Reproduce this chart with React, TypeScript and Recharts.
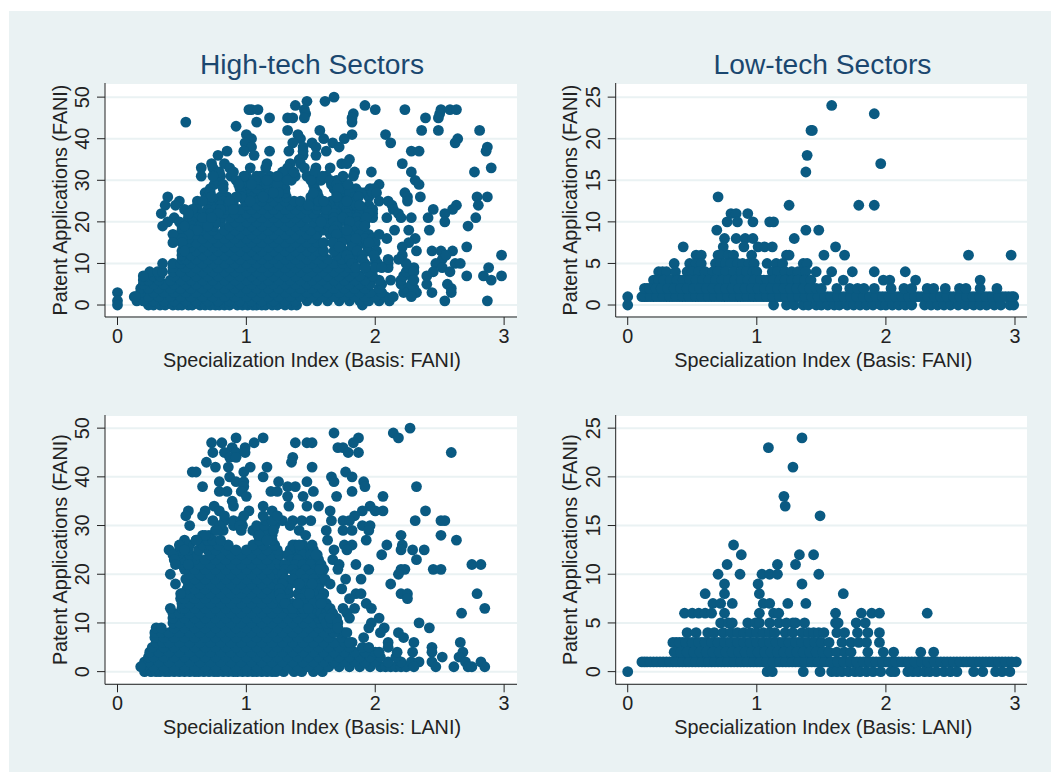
import React from "react";
import { ScatterChart, Scatter, XAxis, YAxis, CartesianGrid } from "recharts";

type Row = [number, number[]];

const xTicks = [0, 1, 2, 3];
const ticksHigh = [0, 10, 20, 30, 40, 50];
const ticksLow = [0, 5, 10, 15, 20, 25];

const titles = ["High-tech Sectors", "Low-tech Sectors"];
const yLabel = "Patent Applications (FANI)";
const xLabelFani = "Specialization Index (Basis: FANI)";
const xLabelLani = "Specialization Index (Basis: LANI)";

const highFaniOuter: Row[] = [
  [50, [1.68]], [49, [1.47, 1.61]], [48, [1.38, 1.92]],
  [47, [1.02, 1.04, 1.09, 1.45, 2.0, 2.23, 2.51, 2.58, 2.63]],
  [46, [1.46, 1.83, 2.5]], [45, [1.18, 1.32, 1.36, 1.45, 1.82, 2.39, 2.49]],
  [44, [.53, 1.08, 1.82]], [43, [.92]], [42, [1.32, 1.57, 2.36, 2.49, 2.81]],
  [41, [1.0, 1.4, 1.82, 2.08]], [40, [1.04, 1.42, 1.6, 1.76, 2.64]],
  [39, [.99, 1.36, 1.51, 1.67, 2.12, 2.62]], [38, [1.04, 1.44, 1.54, 1.72, 2.87]],
  [37, [.85, .98, 1.18, 1.33, 1.44, 1.62, 2.28, 2.34, 2.86]], [36, [.78, 1.06, 1.44, 1.54]],
  [35, [1.8, 1.41]], [34, [.73, .83, 1.16, 1.34, 1.42, 1.74, 1.78, 2.21]],
  [33, [.65, .74, .87, 1.03, 1.15, 1.32, 1.45, 1.54, 1.65, 2.9]],
  [32, [.79, .9, 1.28, 1.37, 1.53, 1.84, 1.97, 2.28, 2.77]],
  [31, [.65, .74, .98, 1.11, 1.24, 1.59, 1.75, 1.83]],
  [30, [.92, 1.07, 1.16, 1.32, 1.5, 1.65, 2.31]],
  [29, [.82, .94, 1.04, 1.7, 1.79, 2.03, 2.34]], [28, [.82, 1.71, 1.96, 1.99]],
  [27, [.72, 1.21, 1.52, 1.89, 1.98, 2.01, 2.23]],
  [26, [.39, .73, .92, 1.13, 1.7, 1.87, 2.25, 2.35, 2.79, 2.87]],
  [25, [.48, .66, .87, 1.03, 1.6, 1.78, 2.03, 2.1, 2.25]],
  [24, [.37, .45, 1.88, 2.13, 2.63, 2.8]], [23, [.52, .58, .9, 2.14, 2.45, 2.6]],
  [22, [.34, .55, 1.95, 2.18, 2.54]], [21, [.44, .66, .73, 1.75, 1.93, 2.09, 2.2, 2.28, 2.41, 2.78]],
  [20, [.39, .48, 1.8, 2.54]], [19, [.35, .52, 1.92, 2.72]], [18, [1.78, 2.15, 2.26, 2.42]],
  [17, [.43, 2.03]], [16, [1.85, 2.09, 2.31]], [15, [.43, 1.67, 1.95, 2.26]], [14, [2.21, 2.71, 1.72]],
  [13, [.52, 2.01, 2.32, 2.44, 2.51, 2.6]], [12, [1.99, 2.21, 2.55, 2.98]], [11, [2.1, 2.18]],
  [10, [.35, 2.47, 2.62, 2.66]], [9, [1.92, 2.05, 2.52, 2.88]], [8, [2.3, 2.45, 2.58]],
  [7, [.2, 2.4, 2.71, 2.84, 2.98]], [6, [2.12, 2.3, 2.9]], [5, [2.4, 2.56]], [4, [2.59]],
  [3, [0, 2.44, 2.59]], [2, [.14, 2.28]], [1, [0, 2.54, 2.87]], [0, [0]],
];

const highFaniFringe: Row[] = [
  [31, [.8, .88, 1.0, 1.08, 1.18, 1.27, 1.5, 1.62]], [30, [.78, .98, 1.12, 1.2, 1.28, 1.58, 1.7]],
  [29, [.75, .96, 1.16, 1.24, 1.66, 1.76]], [28, [.72, .95, 1.74, 1.85]],
  [27, [.68, .96, 1.18, 1.25, 1.8, 1.92]], [26, [.7, .8, .96, 1.5, 1.84, 1.95]],
  [25, [.62, .75, .82, 1.42, 1.56, 1.72, 1.85]], [24, [.62, .72, .8, .86, 1.48, 1.62, 1.76, 1.85, 1.95]],
  [23, [.62, .7, .76, .8, 1.62, 1.78, 1.9, 1.98]], [22, [.6, .66, .72, .78, 1.68, 1.78, 1.88, 1.98]],
  [21, [.55, .62, .7, 1.68, 1.8, 1.86, 1.98]], [20, [.58, .66, .72, .76, 1.58, 1.68, 1.78, 1.86, 1.92]],
  [19, [.5, .58, .64, .7, 1.7, 1.8, 1.87]], [18, [.5, .58, .62, 1.68, 1.82, 1.9]],
  [17, [.5, .55, 1.7, 1.8, 1.88, 1.95]], [16, [.48, .5, 1.78, 1.92, 1.98]],
  [15, [.5, 1.6, 1.74, 1.85, 2.0]], [14, [1.82, 1.94]], [13, [1.68, 1.86, 1.95]],
  [12, [1.78, 1.9]], [11, [1.8, 1.9, 2.0]], [10, [1.82, 1.92, 2.02, 2.1]], [9, [1.85, 2.0, 2.1]],
];

const highFaniCore: Row[] = [
  [0, [.24, .28, .33, .37, .43, .47, .5, .55, .58, .64, .68, .72, .76, .79, .83, .87, .93, .97, 1.01, 1.05, 1.08, 1.12, 1.15, 1.2, 1.24, 1.3, 1.35, 1.39, 1.9]],
  [1, [.15, .2, .28, .36, .44, .53, .61, .7, .78, .87, .95, 1.04, 1.12, 1.21, 1.3, 1.38, 1.47, 1.55, 1.63, 1.72, 1.8, 1.88, 1.95, 2.03, 2.11]],
  [2, [.13, .24, .32, .41, .49, .57, .66, .74, .83, .91, 1.0, 1.08, 1.17, 1.25, 1.34, 1.42, 1.51, 1.59, 1.68, 1.76, 1.84, 1.92, 2.0, 2.08, 2.14]],
  [3, [.18, .28, .36, .44, .53, .61, .7, .78, .87, .95, 1.04, 1.12, 1.21, 1.3, 1.38, 1.47, 1.55, 1.63, 1.72, 1.8, 1.88, 1.96, 2.05, 2.22, 2.32]],
  [4, [.18, .24, .32, .41, .49, .57, .66, .74, .83, .91, 1.0, 1.08, 1.17, 1.25, 1.34, 1.42, 1.51, 1.59, 1.68, 1.76, 1.84, 1.92, 2.03, 2.24, 2.3]],
  [5, [.2, .28, .36, .44, .53, .61, .7, .78, .87, .95, 1.04, 1.12, 1.21, 1.3, 1.38, 1.47, 1.55, 1.63, 1.72, 1.8, 1.88, 1.96, 2.05, 2.2, 2.28]],
  [6, [.2, .24, .32, .41, .49, .57, .66, .74, .83, .91, 1.0, 1.08, 1.17, 1.25, 1.34, 1.42, 1.51, 1.59, 1.68, 1.76, 1.84, 1.92, 2.03, 2.2]],
  [7, [.22, .28, .33, .44, .53, .61, .7, .78, .87, .95, 1.04, 1.12, 1.21, 1.3, 1.38, 1.47, 1.55, 1.63, 1.72, 1.8, 1.88, 1.98, 2.22, 2.28]],
  [8, [.25, .31, .35, .43, .49, .57, .66, .74, .83, .91, 1.0, 1.08, 1.17, 1.25, 1.34, 1.42, 1.51, 1.59, 1.68, 1.76, 1.84, 1.95, 2.24]],
  [9, [.43, .53, .61, .7, .78, .87, .95, 1.04, 1.12, 1.21, 1.3, 1.38, 1.47, 1.55, 1.63, 1.72, 1.8, 2.26, 2.3]],
  [10, [.43, .49, .57, .66, .74, .83, .91, 1.0, 1.08, 1.17, 1.25, 1.34, 1.42, 1.51, 1.59, 1.68, 1.75, 2.0, 2.24]],
  [11, [.5, .53, .61, .7, .78, .87, .95, 1.04, 1.12, 1.21, 1.3, 1.38, 1.47, 1.55, 1.63, 1.74, 1.84, 2.52]],
  [12, [.5, .57, .66, .74, .83, .91, 1.0, 1.08, 1.17, 1.25, 1.34, 1.42, 1.51, 1.59, 1.7, 1.83]],
  [13, [.5, .61, .7, .78, .87, .95, 1.04, 1.12, 1.21, 1.3, 1.38, 1.47, 1.55, 1.6, 1.76, 1.82]],
  [14, [.52, .57, .66, .74, .83, .91, 1.0, 1.08, 1.17, 1.25, 1.34, 1.42, 1.51, 1.86]],
  [15, [.55, .61, .7, .78, .87, .95, 1.04, 1.12, 1.21, 1.3, 1.38, 1.47, 1.55, 1.82, 1.9]],
  [16, [.55, .66, .74, .83, .91, 1.0, 1.08, 1.17, 1.25, 1.34, 1.42, 1.51, 1.74]],
  [17, [.6, .7, .78, .87, .95, 1.04, 1.12, 1.21, 1.3, 1.38, 1.47, 1.55, 1.65, 1.76]],
  [18, [.65, .74, .83, .91, 1.0, 1.08, 1.17, 1.25, 1.34, 1.42, 1.5, 1.6, 1.72]],
  [19, [.75, .87, .95, 1.04, 1.12, 1.21, 1.3, 1.38, 1.45, 1.56, 1.64, 1.8]],
  [20, [.8, .91, 1.0, 1.08, 1.17, 1.25, 1.34, 1.42, 1.52, 1.63, 1.72, 1.86]],
  [21, [.8, .87, .95, 1.04, 1.12, 1.21, 1.3, 1.38, 1.47, 1.55, 1.6, 1.9]],
  [22, [.82, .91, 1.0, 1.08, 1.17, 1.25, 1.34, 1.42, 1.52, 1.62, 1.72, 1.84]],
  [23, [.85, .95, 1.04, 1.12, 1.21, 1.3, 1.38, 1.47, 1.55, 1.7]],
  [24, [.9, 1.0, 1.08, 1.17, 1.25, 1.34, 1.42, 1.55, 1.68, 1.82]],
  [25, [.9, .99, 1.12, 1.21, 1.3, 1.37, 1.5, 1.66]],
  [26, [.85, 1.0, 1.08, 1.17, 1.25, 1.31, 1.56, 1.74]],
  [27, [1.04, 1.12, 1.3, 1.55, 1.7, 1.78]],
  [28, [1.0, 1.08, 1.17, 1.26, 1.3, 1.53, 1.68]],
  [29, [1.0, 1.1, 1.2, 1.28, 1.52]],
  [30, [1.05, 1.24, 1.35, 1.56]], [31, [1.3, 1.38, 1.47]],
];

const lowFaniOuter: Row[] = [
  [24, [1.58]], [23, [1.91]], [21, [1.42, 1.43]], [18, [1.39]], [17, [1.96]], [16, [1.38]],
  [13, [.7]], [12, [1.25, 1.79, 1.91]], [11, [.8, .84, .93]], [10, [.77, .85, .97, 1.1, 1.13]],
  [9, [.69, 1.38, 1.48]], [8, [.75, .84, .91, .97, 1.29]],
  [7, [.43, .74, .9, 1.01, 1.06, 1.12, 1.61]],
  [6, [.53, .57, .7, .72, .78, .82, .96, 1.23, 1.25, 1.52, 1.68, 2.64, 2.97]],
  [5, [.36, .48, .53, .57, .68, .72, .76, .8, .85, .89, .94, .98, 1.08, 1.15, 1.2, 1.36, 1.39]],
  [4, [.24, .27, .3, .37, .46, .5, .55, .6, .66, .7, .76, .82, .88, .92, .97, 1.0, 1.12, 1.16, 1.22, 1.27, 1.32, 1.38, 1.46, 1.58, 1.74, 1.91, 2.15]],
  [3, [.2, .24, .28, .33, .38, .43, .48, .53, .58, .63, .68, .73, .78, .83, .88, .93, .98, 1.03, 1.08, 1.13, 1.18, 1.22, 1.27, 1.32, 1.37, 1.42, 1.54, 1.67, 1.98, 2.03, 2.23, 2.73]],
  [2, [.13, .17, .22, .26, .31, .36, .41, .46, .51, .56, .61, .66, .71, .76, .81, .86, .91, .96, 1.01, 1.06, 1.11, 1.16, 1.21, 1.26, 1.31, 1.36, 1.41, 1.46, 1.5, 1.62, 1.72, 1.78, 1.83, 1.91, 2.04, 2.14, 2.2, 2.32, 2.37, 2.46, 2.57, 2.62, 2.73, 2.86]],
];

const lowFaniBase: Row[] = [
  [1, [0, .11, .15, .2, .25, .3, .35, .4, .45, .5, .55, .6, .65, .7, .75, .8, .85, .9, .95, 1.0, 1.05, 1.1, 1.15, 1.2, 1.25, 1.3, 1.35, 1.4, 1.45, 1.5, 1.55, 1.6, 1.65, 1.7, 1.75, 1.8, 1.85, 1.9, 1.95, 2.0, 2.05, 2.1, 2.15, 2.2, 2.25, 2.3, 2.35, 2.4, 2.45, 2.5, 2.55, 2.6, 2.65, 2.7, 2.75, 2.8, 2.85, 2.9, 2.95, 2.99]],
  [0, [0, 1.13, 1.23, 1.29, 1.36, 1.4, 1.46, 1.5, 1.55, 1.6, 1.64, 1.7, 1.75, 1.8, 1.85, 1.9, 1.96, 2.0, 2.05, 2.1, 2.15, 2.2, 2.3, 2.35, 2.4, 2.45, 2.5, 2.56, 2.62, 2.68, 2.73, 2.78, 2.84, 2.89, 2.96, 2.99]],
];

const lowFaniFill: Row[] = [
  [1, [.13, .175, .225, .275, .325, .375, .425, .475, .525, .575, .625, .675, .725, .775, .825, .875, .925, .975, 1.025, 1.075, 1.125, 1.175, 1.225, 1.275, 1.325, 1.375, 1.425, 1.475, 1.525, 1.575, 1.625, 1.675, 1.725, 1.775, 1.825, 1.875, 1.925, 1.975, 2.025, 2.075, 2.125, 2.175, 2.225, 2.275, 2.325, 2.375, 2.425, 2.475, 2.525, 2.575, 2.625, 2.675, 2.725, 2.775, 2.825, 2.875, 2.925, 2.975]],
  [2, [.15, .195, .24, .285, .335, .385, .435, .485, .535, .585, .635, .685, .735, .785, .835, .885, .935, .985, 1.035, 1.085, 1.135, 1.185, 1.235, 1.285, 1.335, 1.385, 1.435]],
  [3, [.22, .26, .305, .355, .405, .455, .505, .555, .605, .655, .705, .755, .805, .855, .905, .955, 1.005, 1.055, 1.105, 1.155, 1.2, 1.245, 1.295, 1.345]],
];

const highLaniOuter: Row[] = [
  [50, [2.27]], [49, [1.68, 2.14]], [48, [.92, 1.13, 1.87, 2.18]],
  [47, [.73, .81, 1.06, 1.38, 1.47, 1.51, 1.83]], [46, [.89, .99, 1.71, 1.75]],
  [45, [.74, .83, .92, .99, 1.79, 1.87, 2.59]], [44, [.87, .92, 1.36]], [43, [.69, 1.35]],
  [42, [.76, .86, 1.03, 1.16, 1.51]], [41, [.58, .61, .98, 1.77]], [40, [.87, 1.13, 1.66, 1.82]],
  [39, [.79, .92, .98, 1.25, 1.47, 1.68, 1.91]], [38, [.66, .98, 1.32, 1.38, 1.92, 2.32]],
  [37, [.79, .85, .96, 1.19, 1.24, 1.52, 1.82]], [36, [1.0, 1.32, 1.44, 1.7, 2.06]], [35, [.89]],
  [34, [.75, .9, 1.13, 1.33, 1.47, 1.56, 1.96]], [33, [.55, .68, .79, 1.02, 1.2, 1.65, 1.9, 2.06, 2.0, 2.39]],
  [32, [.53, .66, .83, .98, 1.13, 1.24, 1.84]],
  [31, [1.36, 1.43, 1.5, 1.66, 1.75, 1.8, 2.31, 2.51, 2.54]], [30, [.56, .79, .95, 1.34, 1.9, 1.96]],
  [29, [.77, .96, 1.21, 1.41, 1.62, 1.75, 1.82, 1.95]], [28, [.68, 1.1, 1.46, 2.2, 2.51]],
  [27, [.61, 1.16, 1.63, 1.93, 2.63]], [26, [.48, 1.36, 1.41, 1.51, 1.76, 1.82, 2.09, 2.21]],
  [25, [.4, .52, 1.68, 1.78, 2.2, 2.29, 2.38]], [24, [.43, 1.54, 2.05]], [23, [.44, 1.67, 2.32]],
  [22, [.45, .55, 1.72, 1.85, 2.75, 2.82]], [21, [1.57, 1.71, 1.95, 2.2, 2.23, 2.45, 2.51]],
  [20, [.41, 2.18]], [19, [1.61, 1.77, 1.89]], [18, [.45, 1.41, 1.51, 1.65, 2.12]],
  [17, [1.74]], [16, [.49, 1.49, 1.85, 1.89, 2.2, 2.25, 2.79]], [15, [1.8, 2.25]], [14, [1.4, 1.58, 1.93]],
  [13, [.41, 1.65, 1.75, 1.84, 1.97, 2.85]], [12, [1.67, 1.78, 2.67]], [11, [1.65, 1.8, 2.03]],
  [10, [1.71, 1.97, 2.34]], [9, [1.71, 1.95, 2.07, 2.42]], [8, [1.78, 2.04, 2.18]],
  [7, [1.91, 2.22]], [6, [1.8, 2.1, 2.3, 2.66]], [5, [1.95, 2.1, 2.44]],
  [4, [2.03, 2.17, 2.29, 2.44, 2.68]], [3, [2.52, 2.65]], [2, [2.34, 2.44, 2.7, 2.82]],
  [1, [.18, 2.3, 2.47, 2.61, 2.72, 2.75, 2.85]],
];

const highLaniFringe: Row[] = [
  [25, [1.34, 1.42, 1.52]], [24, [1.32, 1.44, 1.5, 1.55]], [23, [1.35, 1.4, 1.52, 1.56]],
  [22, [1.3, 1.38, 1.44, 1.5, 1.58]], [21, [1.3, 1.36, 1.46, 1.54]], [20, [1.28, 1.38, 1.42, 1.5, 1.56]],
  [19, [1.3, 1.36, 1.46, 1.52]], [18, [1.28, 1.4, 1.46, 1.54, 1.57]], [17, [1.26, 1.42, 1.5, 1.56]],
  [16, [1.26, 1.4, 1.46, 1.52, 1.6]], [15, [1.27, 1.42, 1.5, 1.58]], [14, [1.3, 1.44, 1.52, 1.6, 1.62]],
  [13, [1.36, 1.44, 1.48, 1.6, 1.64]], [12, [1.58, 1.62]], [11, [1.6, 1.7]], [10, [1.62, 1.66]],
];

const highLaniCore: Row[] = [
  [0, [.21, .26, .3, .33, .37, .4, .44, .48, .52, .56, .6, .63, .67, .71, .75, .78, .82, .86, .9, .93, .97, 1.01, 1.05, 1.08, 1.12, 1.16, 1.2, 1.23, 1.29, 1.37, 1.43, 1.52, 1.59]],
  [1, [.2, .28, .36, .44, .52, .6, .68, .76, .84, .92, 1.0, 1.08, 1.16, 1.24, 1.32, 1.4, 1.48, 1.56, 1.64, 1.72, 1.8, 1.88, 1.96, 2.04, 2.08, 2.12, 2.16, 2.2, 2.24]],
  [2, [.21, .24, .32, .4, .48, .56, .64, .72, .8, .88, .96, 1.04, 1.12, 1.2, 1.28, 1.36, 1.44, 1.52, 1.6, 1.68, 1.76, 1.84, 1.92, 2.0, 2.1, 2.2, 2.28]],
  [3, [.24, .28, .36, .44, .52, .6, .68, .76, .84, .92, 1.0, 1.08, 1.16, 1.24, 1.32, 1.4, 1.48, 1.56, 1.64, 1.72, 1.8, 1.88, 1.96, 2.04, 2.16]],
  [4, [.25, .32, .4, .48, .56, .64, .72, .8, .88, .96, 1.04, 1.12, 1.2, 1.28, 1.36, 1.44, 1.52, 1.6, 1.68, 1.76, 1.84, 1.92, 2.0]],
  [5, [.27, .36, .44, .52, .6, .68, .76, .84, .92, 1.0, 1.08, 1.16, 1.24, 1.32, 1.4, 1.48, 1.56, 1.64, 1.72, 1.8, 1.9]],
  [6, [.3, .35, .4, .48, .56, .64, .72, .8, .88, .96, 1.04, 1.12, 1.2, 1.28, 1.36, 1.44, 1.52, 1.6, 1.68, 1.76, 1.82]],
  [7, [.29, .36, .44, .52, .6, .68, .76, .84, .92, 1.0, 1.08, 1.16, 1.24, 1.32, 1.4, 1.48, 1.56, 1.64, 1.74]],
  [8, [.29, .34, .4, .48, .56, .64, .72, .8, .88, .96, 1.04, 1.12, 1.2, 1.28, 1.36, 1.44, 1.52, 1.6, 1.68, 1.76]],
  [9, [.3, .34, .44, .52, .6, .68, .76, .84, .92, 1.0, 1.08, 1.16, 1.24, 1.32, 1.4, 1.48, 1.56, 1.64, 1.69]],
  [10, [.43, .48, .56, .64, .72, .8, .88, .96, 1.04, 1.12, 1.2, 1.28, 1.36, 1.44, 1.52, 1.58]],
  [11, [.43, .52, .6, .68, .76, .84, .92, 1.0, 1.08, 1.16, 1.24, 1.32, 1.4, 1.48, 1.56]],
  [12, [.43, .48, .56, .64, .72, .8, .88, .96, 1.04, 1.12, 1.2, 1.28, 1.36, 1.44, 1.52, 1.57]],
  [13, [.5, .52, .6, .68, .76, .84, .92, 1.0, 1.08, 1.16, 1.24, 1.32, 1.4, 1.53]],
  [14, [.5, .56, .64, .72, .8, .88, .96, 1.04, 1.12, 1.2, 1.28, 1.36]],
  [15, [.49, .52, .6, .68, .76, .84, .92, 1.0, 1.08, 1.16, 1.24, 1.3, 1.56]],
  [16, [.5, .56, .64, .72, .8, .88, .96, 1.04, 1.12, 1.2, 1.28, 1.33, 1.6]],
  [17, [.54, .6, .68, .76, .84, .92, 1.0, 1.08, 1.16, 1.24, 1.32, 1.46, 1.55]],
  [18, [.55, .64, .72, .8, .88, .96, 1.04, 1.12, 1.2, 1.28, 1.34, 1.48]],
  [19, [.53, .6, .68, .76, .84, .92, 1.0, 1.08, 1.16, 1.24, 1.3, 1.44, 1.58]],
  [20, [.56, .64, .72, .8, .88, .96, 1.04, 1.12, 1.2, 1.26, 1.42, 1.52]],
  [21, [.52, .6, .68, .76, .84, .92, 1.0, 1.08, 1.16, 1.24, 1.28, 1.4, 1.5, 1.6]],
  [22, [.5, .55, .64, .72, .8, .88, .96, 1.04, 1.12, 1.2, 1.26, 1.42, 1.52]],
  [23, [.52, .6, .68, .76, .84, .92, 1.0, 1.08, 1.16, 1.24, 1.36, 1.46, 1.54]],
  [24, [.47, .56, .62, .72, .8, .88, .96, 1.04, 1.12, 1.2, 1.26, 1.4, 1.52]],
  [25, [.48, .55, .63, .7, .76, .84, .92, 1.0, 1.08, 1.16, 1.24, 1.38, 1.48]],
  [26, [.5, .56, .66, .72, .78, .86, 1.05, 1.13, 1.22, 1.38, 1.44]],
  [27, [.52, .61, .7, .74, .8, 1.1, 1.16, 1.2]],
  [28, [.66, .71, 1.09, 1.13, 1.2]],
  [29, [.76, .82, 1.05, 1.1, 1.16]], [30, [.8, .9, .97, 1.08, 1.14, 1.22]],
  [31, [.74, .83, .9, .96, 1.15, 1.2, 1.28]],
];

const lowLaniOuter: Row[] = [
  [24, [1.35]], [23, [1.09]], [21, [1.28]], [18, [1.21]], [17, [1.22]], [16, [1.49]],
  [13, [.82]], [12, [.88, 1.33, 1.44]], [11, [.77, 1.16, 1.3]], [10, [.7, .87, 1.04, 1.1, 1.16, 1.48]],
  [9, [.75, 1.01, 1.35]], [8, [.6, .75, 1.02, 1.67]], [7, [.66, .72, .81, 1.05, 1.1, 1.24, 1.38]],
  [6, [.44, .5, .55, .6, .65, .75, 1.02, 1.13, 1.17, 1.61, 1.81, 1.89, 1.95, 2.32]],
  [5, [.72, .78, .81, .93, .99, 1.02, 1.1, 1.17, 1.23, 1.28, 1.3, 1.37, 1.61, 1.63, 1.77, 1.84]],
  [4, [.46, .53, .62, .67, .74, .8, .85, .9, .95, 1.0, 1.05, 1.1, 1.14, 1.22, 1.28, 1.35, 1.4, 1.44, 1.48, 1.52, 1.62, 1.68, 1.78, 1.86, 1.95]],
  [3, [.35, .4, .45, .5, .55, .6, .65, .7, .75, .8, .85, .9, .95, 1.0, 1.05, 1.1, 1.15, 1.2, 1.25, 1.3, 1.35, 1.4, 1.45, 1.5, 1.56, 1.66, 1.73, 1.79, 1.85, 1.95]],
  [2, [.36, .41, .46, .51, .56, .61, .66, .71, .76, .81, .86, .91, .96, 1.01, 1.06, 1.11, 1.16, 1.21, 1.26, 1.31, 1.36, 1.41, 1.46, 1.51, 1.56, 1.62, 1.68, 1.73, 1.86, 1.98, 2.06, 2.27, 2.37]],
];

const lowLaniBase: Row[] = [
  [1, [.11, .15, .2, .25, .3, .35, .4, .45, .5, .55, .6, .65, .7, .75, .8, .85, .9, .95, 1.0, 1.05, 1.1, 1.15, 1.2, 1.25, 1.3, 1.35, 1.4, 1.45, 1.5, 1.55, 1.6, 1.65, 1.7, 1.75, 1.8, 1.85, 1.9, 1.95, 2.0, 2.05, 2.1, 2.15, 2.2, 2.25, 2.3, 2.35, 2.4, 2.45, 2.5, 2.55, 2.6, 2.65, 2.7, 2.75, 2.8, 2.85, 2.9, 2.95, 3.01]],
  [0, [0, 1.08, 1.12, 1.36, 1.49, 1.58, 1.62, 1.66, 1.71, 1.76, 1.8, 1.85, 1.9, 1.96, 2.04, 2.07, 2.17, 2.21, 2.25, 2.3, 2.34, 2.39, 2.45, 2.5, 2.55, 2.68, 2.75, 2.85, 2.9, 2.96]],
];

const lowLaniFill: Row[] = [
  [1, [.13, .175, .225, .275, .325, .375, .425, .475, .525, .575, .625, .675, .725, .775, .825, .875, .925, .975, 1.025, 1.075, 1.125, 1.175, 1.225, 1.275, 1.325, 1.375, 1.425, 1.475, 1.525, 1.575, 1.625, 1.675, 1.725, 1.775, 1.825, 1.875, 1.925, 1.975, 2.025, 2.075, 2.125, 2.175, 2.225, 2.275, 2.325, 2.375, 2.425, 2.475, 2.525, 2.575, 2.625, 2.675, 2.725, 2.775, 2.825, 2.875, 2.925, 2.975]],
  [2, [.385, .435, .485, .535, .585, .635, .685, .735, .785, .835, .885, .935, .985, 1.035, 1.085, 1.135, 1.185, 1.235, 1.285, 1.335, 1.385, 1.435, 1.485, 1.535]],
  [3, [.375, .425, .475, .525, .575, .625, .675, .725, .775, .825, .875, .925, .975, 1.025, 1.075, 1.125, 1.175, 1.225, 1.275, 1.325, 1.375, 1.425, 1.475]],
];

const toPoints = (rows: Row[]) => rows.flatMap(([y, xs]) => xs.map((x) => ({ x, y })));

const DOT = "#0a5a82";
const NAVY = "#1a476f";
const INK = "#222222";
const GRID = "#eaf2f3";
const FONT = "'Liberation Sans', Arial, sans-serif";
const TEXT_SIZE = 19.8;

const YTick = (props: any) => {
  const { x, y, payload } = props;
  return (
    <text x={x} y={y} transform={`rotate(-90 ${x} ${y})`} textAnchor="middle" fontSize={TEXT_SIZE} fontFamily={FONT} fill={INK}>
      {payload.value}
    </text>
  );
};

const Dot = (props: any) => <circle cx={props.cx} cy={props.cy} r={5.4} fill={DOT} />;

type PanelProps = {
  left: number; top: number; width: number; height: number;
  axisWidth: number; mTop: number; mRight: number; axisHeight: number;
  xDomain: [number, number]; yDomain: [number, number]; yTicks: number[];
  rows: Row[]; xLabel: string; labelOffset: number; labelShift: number;
};

function Panel(p: PanelProps) {
  return (
    <div style={{ position: "absolute", left: p.left, top: p.top }}>
      <ScatterChart width={p.width} height={p.height} margin={{ top: p.mTop, right: p.mRight, bottom: 0, left: 0 }}>
        <CartesianGrid vertical={false} stroke={GRID} strokeWidth={2} fill="#ffffff" />
        <XAxis
          type="number" dataKey="x" domain={p.xDomain} ticks={xTicks} height={p.axisHeight} tickSize={8} tickMargin={4}
          stroke={INK} allowDataOverflow interval={0}
          tick={{ fontSize: TEXT_SIZE, fontFamily: FONT, fill: INK }}
          label={{ value: p.xLabel, position: "insideTop", offset: 36, dx: p.labelShift, fontSize: TEXT_SIZE, fontFamily: FONT, fill: INK }}
        />
        <YAxis
          type="number" dataKey="y" domain={p.yDomain} ticks={p.yTicks} width={p.axisWidth} tickSize={8} tickMargin={8}
          stroke={INK} allowDataOverflow interval={0} tick={<YTick />}
          label={{ value: yLabel, angle: -90, position: "insideLeft", offset: p.labelOffset, fontSize: TEXT_SIZE, fontFamily: FONT, fill: INK, textAnchor: "middle" }}
        />
        <Scatter data={toPoints(p.rows)} fill={DOT} shape={<Dot />} isAnimationActive={false} />
      </ScatterChart>
    </div>
  );
}

const Title = ({ text, center }: { text: string; center: number }) => (
  <div style={{ position: "absolute", left: center - 200, width: 400, top: 47, textAlign: "center", fontFamily: FONT, fontSize: 28.2, color: NAVY, lineHeight: "34px" }}>
    {text}
  </div>
);

export default function App() {
  const xLeft: [number, number] = [-0.097, 3.1];
  const xRight: [number, number] = [-0.093, 3.093];
  return (
    <div style={{ position: "absolute", left: 0, top: 0, width: 1051, height: 772, background: "#ffffff", overflow: "hidden" }}>
      <div style={{ position: "absolute", left: 9, top: 11, right: 0, bottom: 0, background: GRID }} />
      <Title text={titles[0]} center={312} />
      <Title text={titles[1]} center={822.5} />
      <Panel left={0} top={60} width={522} height={320} axisWidth={105} mTop={23} mRight={5} axisHeight={63}
        xDomain={xLeft} yDomain={[-2.88, 53.4]} yTicks={ticksHigh} rows={[...highFaniCore, ...highFaniFringe, ...highFaniOuter]} xLabel={xLabelFani} labelOffset={60} labelShift={1} />
      <Panel left={525} top={60} width={510} height={320} axisWidth={90.7} mTop={23} mRight={8} axisHeight={63}
        xDomain={xRight} yDomain={[-1.44, 26.7]} yTicks={ticksLow} rows={[...lowFaniBase, ...lowFaniFill, ...lowFaniOuter]} xLabel={xLabelFani} labelOffset={45} labelShift={2} />
      <Panel left={0} top={395} width={522} height={350} axisWidth={105} mTop={20} mRight={5} axisHeight={60.7}
        xDomain={xLeft} yDomain={[-2.6, 52.7]} yTicks={ticksHigh} rows={[...highLaniCore, ...highLaniFringe, ...highLaniOuter]} xLabel={xLabelLani} labelOffset={60} labelShift={1} />
      <Panel left={525} top={395} width={510} height={350} axisWidth={90.7} mTop={20} mRight={8} axisHeight={60.7}
        xDomain={xRight} yDomain={[-1.3, 26.35]} yTicks={ticksLow} rows={[...lowLaniBase, ...lowLaniFill, ...lowLaniOuter]} xLabel={xLabelLani} labelOffset={45} labelShift={2} />
    </div>
  );
}
